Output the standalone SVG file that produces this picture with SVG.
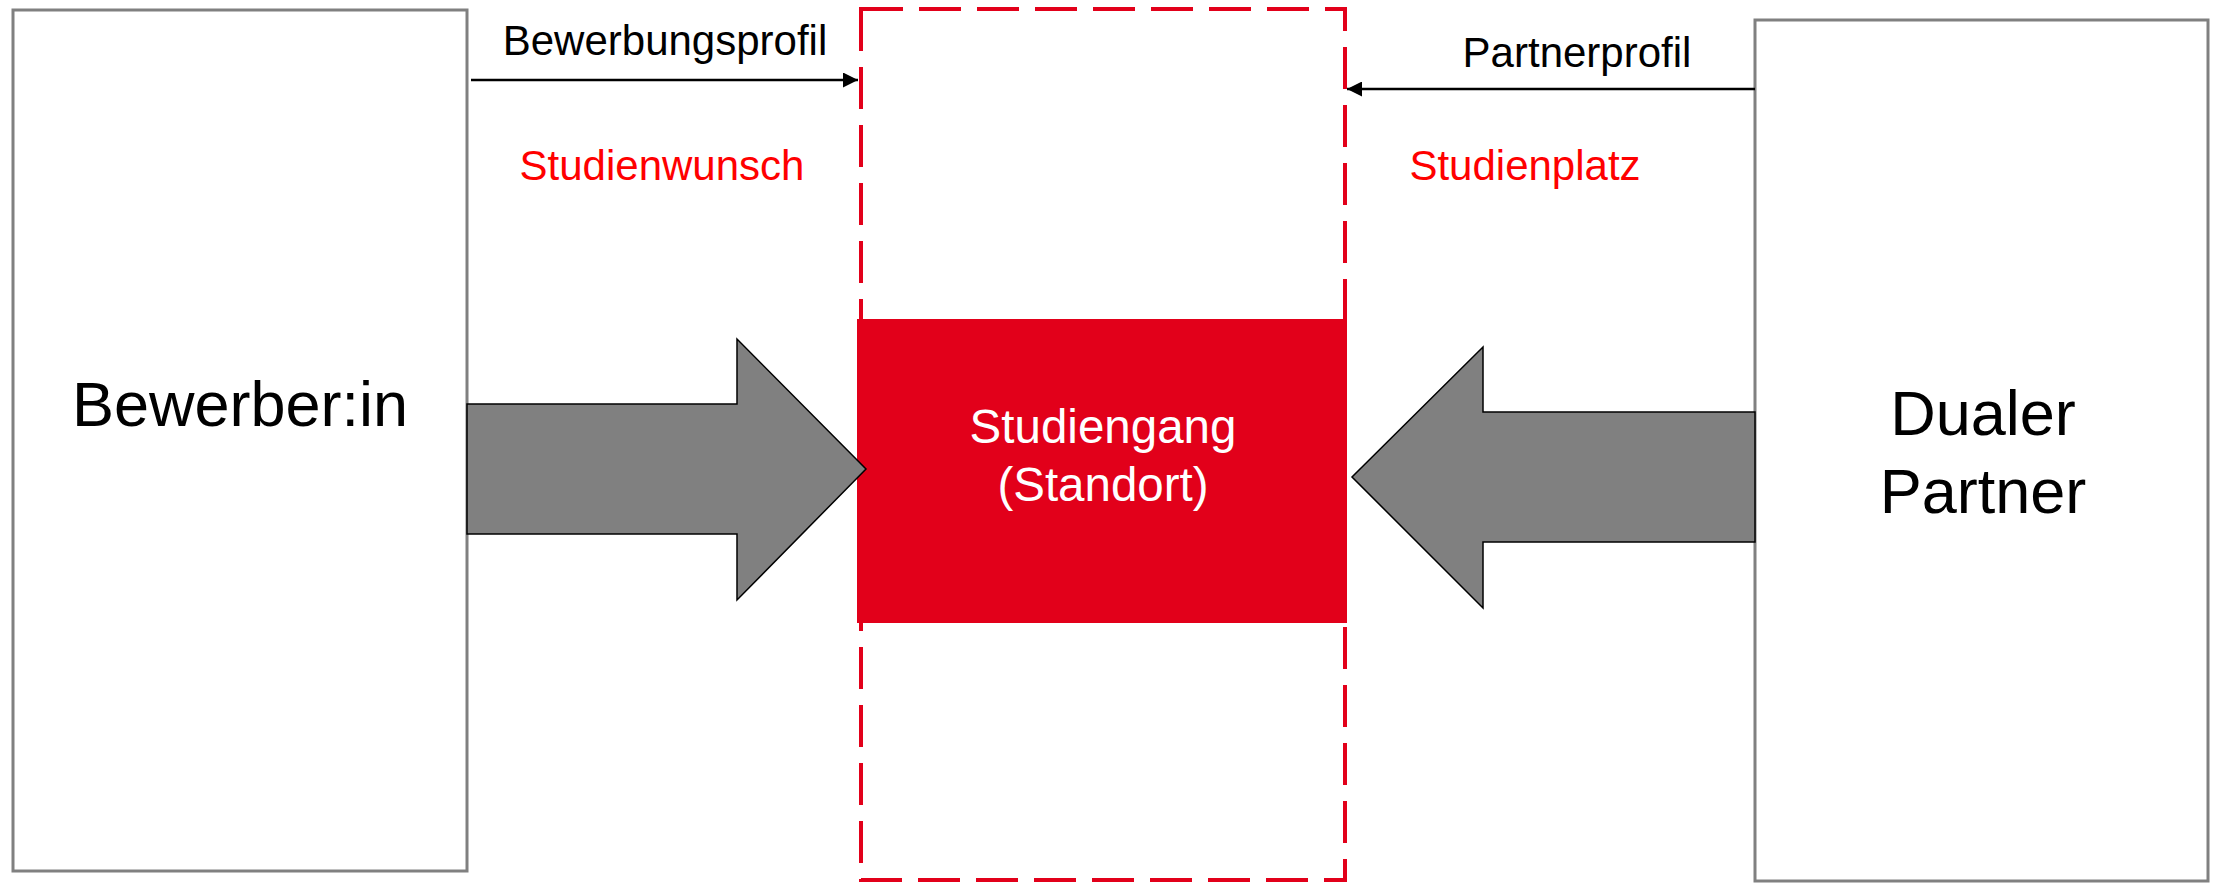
<svg xmlns="http://www.w3.org/2000/svg" width="2219" height="885" viewBox="0 0 2219 885">
<style>
.box{fill:#fff;stroke:#808080;stroke-width:3}
.big{font-family:"Liberation Sans",Arial,sans-serif;font-size:63px;fill:#000;text-anchor:middle}
.lbl{font-family:"Liberation Sans",Arial,sans-serif;font-size:42px;fill:#000;text-anchor:middle}
.red{fill:#ff0000}
.blk{fill:#808080;stroke:#000;stroke-width:1.5;stroke-linejoin:miter}
.conn{stroke:#000;stroke-width:2.5;fill:none}
</style>
<defs>
<marker id="ah" viewBox="0 0 10 10" refX="10" refY="5" markerUnits="userSpaceOnUse" markerWidth="16" markerHeight="15" orient="auto">
<path d="M0,0 L10,5 L0,10 Z" fill="#000"/>
</marker>
</defs>
<rect width="2219" height="885" fill="#fff"/>
<g id="scope">
<rect x="861" y="9" width="484" height="871" fill="none" stroke="#e2001a" stroke-width="4" stroke-dasharray="42 16"/>
</g>
<g id="bewerber">
<rect class="box" x="13" y="10" width="454" height="861"/>
<text class="big" x="240" y="426">Bewerber:in</text>
</g>
<g id="partner">
<rect class="box" x="1755" y="20" width="453" height="861"/>
<text class="big" x="1983" y="435">Dualer</text>
<text class="big" x="1983" y="513">Partner</text>
</g>
<g id="studiengang">
<rect x="857" y="319" width="490" height="304" fill="#e2001a"/>
<text class="lbl" x="1103" y="443" style="font-size:47.5px;fill:#fff">Studiengang</text>
<text class="lbl" x="1103" y="501" style="font-size:47.5px;fill:#fff">(Standort)</text>
</g>
<g id="connectors">
<path class="blk" d="M467,404 L737,404 L737,339 L866,469 L737,600 L737,534 L467,534 Z"/>
<path class="blk" d="M1755,412 L1483,412 L1483,347 L1352,477 L1483,608 L1483,542 L1755,542 Z"/>
<line class="conn" x1="471" y1="80" x2="858" y2="80" marker-end="url(#ah)"/>
<line class="conn" x1="1755" y1="89" x2="1347" y2="89" marker-end="url(#ah)"/>
</g>
<g id="labels">
<text class="lbl" x="665" y="55">Bewerbungsprofil</text>
<text class="lbl red" x="662" y="180">Studienwunsch</text>
<text class="lbl" x="1577" y="67">Partnerprofil</text>
<text class="lbl red" x="1525" y="180">Studienplatz</text>
</g>
</svg>
